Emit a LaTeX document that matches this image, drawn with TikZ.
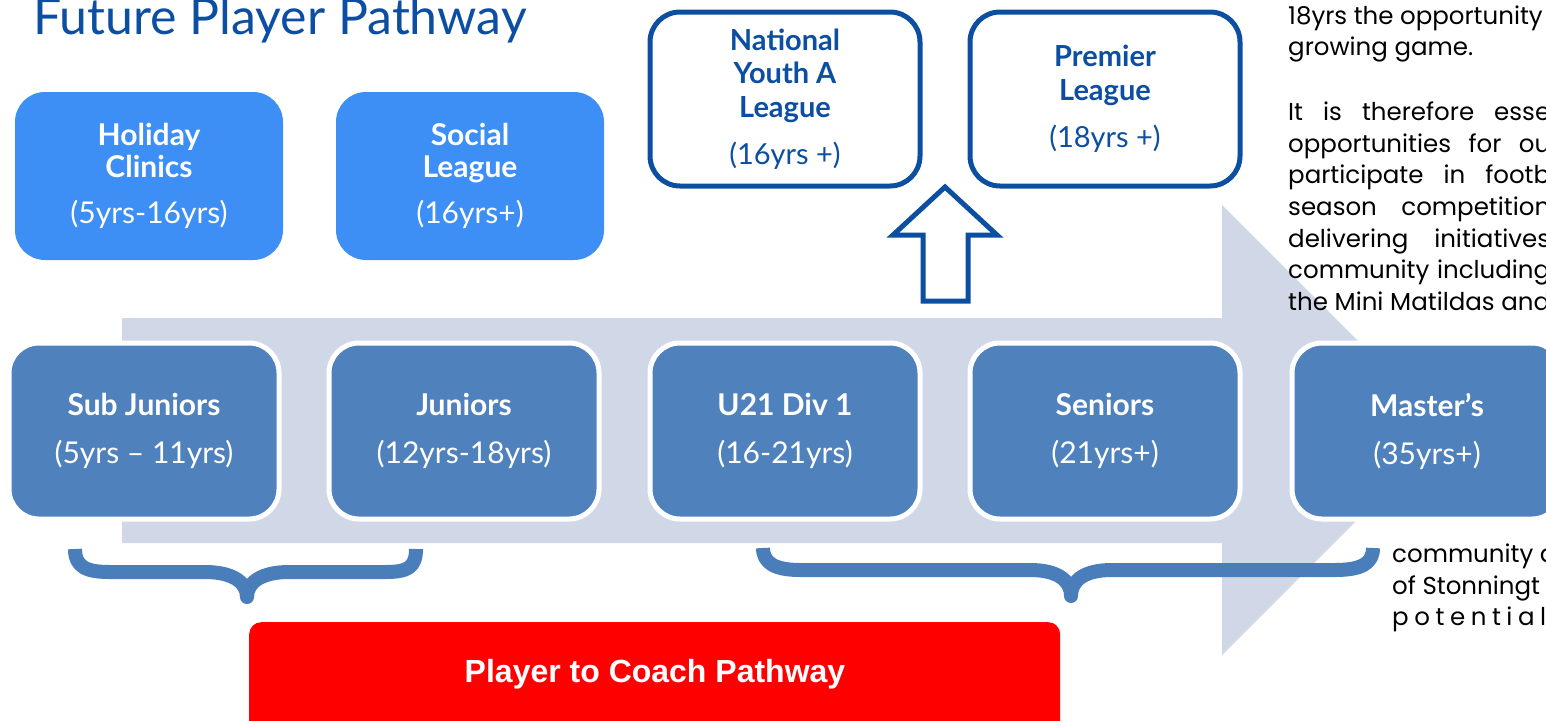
\documentclass[tikz,border=0pt]{standalone}
\usepackage{fontspec}
\setmainfont{Lato}
\newfontfamily\bodyfont{Poppins}
\newfontfamily\arialfont{Liberation Sans}
\usetikzlibrary{positioning}

\definecolor{titleblue}{RGB}{12,78,162}
\definecolor{brightblue}{RGB}{61,142,245}
\definecolor{rowblue}{RGB}{79,129,189}
\definecolor{pathgrey}{RGB}{208,216,232}
\definecolor{bracecol}{RGB}{74,126,187}

% stretched (justified) line of the side text
\newcommand{\jline}[2]{\makebox[#1pt][s]{#2}}

\tikzset{
  agebox/.style={draw=white, line width=5, fill=rowblue, rounded corners=30,
    minimum width=270, minimum height=176, text=white, align=center,
    font=\fontsize{30}{34}\selectfont},
  clinicbox/.style={fill=brightblue, rounded corners=30, minimum width=268,
    minimum height=168, text=white, align=center,
    font=\fontsize{30}{32}\selectfont},
  leaguebox/.style={draw=titleblue, line width=5, fill=white, rounded corners=30,
    minimum width=270, minimum height=174, text=titleblue, align=center,
    font=\fontsize{29}{33.5}\selectfont},
  bodytext/.style={anchor=base west, inner sep=0,
    font=\bodyfont\fontsize{24.5}{32}\selectfont},
  brace/.style={draw=bracecol, line width=14, line join=round},
}

\begin{document}
\begin{tikzpicture}[x=1pt,y=1pt]
\useasboundingbox (0,0) rectangle (1546,-720);
\clip (0,0) rectangle (1546,-720);

% big pathway arrow
\fill[pathgrey] (122,-318) -- (1222,-318) -- (1222,-205) -- (1447,-430)
  -- (1222,-655) -- (1222,-543) -- (122,-543) -- cycle;

% title
\node[anchor=base west, inner sep=0, text=titleblue,
  font=\fontsize{50}{54}\selectfont] (title) at (33,-34) {Future Player Pathway};

% top boxes
\node[clinicbox] (holiday) at (149,-176)
  {\textbf{Holiday}\\\textbf{Clinics}\\[14pt](5yrs-16yrs)};
\node[clinicbox] (social) at (470,-176)
  {\textbf{Social}\\\textbf{League}\\[14pt](16yrs+)};
\node[leaguebox] (national) at (785,-99)
  {\textbf{National}\\\textbf{Youth A}\\\textbf{League}\\[14pt](16yrs +)};
\node[leaguebox] (premier) at (1105,-99)
  {\textbf{Premier}\\\textbf{League}\\[14pt](18yrs +)};

% age groups
\node[agebox] (subjun) at (144,-431) {\textbf{Sub Juniors}\\[14pt](5yrs – 11yrs)};
\node[agebox] (juniors) at (464,-431) {\textbf{Juniors}\\[14pt](12yrs-18yrs)};
\node[agebox] (under21) at (785,-431) {\textbf{U21 Div 1}\\[14pt](16-21yrs)};
\node[agebox] (seniors) at (1105,-431) {\textbf{Seniors}\\[14pt](21yrs+)};
\node[agebox] (masters) at (1427,-431) {\textbf{Master’s}\\[14pt](35yrs+)};

% up arrow to national youth
\draw[titleblue, line width=5, fill=white] (923,-301) -- (923,-235) -- (893,-235)
  -- (945,-187) -- (997,-235) -- (968,-235) -- (968,-301) -- cycle;

% braces
\draw[brace] (75,-549) .. controls (75,-568) and (88,-572) .. (110,-572)
  -- (205,-572) .. controls (232,-572) and (247,-582) .. (247,-597)
  .. controls (247,-582) and (262,-572) .. (289,-572)
  -- (385,-572) .. controls (407,-572) and (416,-568) .. (416,-549);
\draw[brace] (763,-548) .. controls (763,-563) and (775,-570) .. (800,-570)
  -- (1030,-570) .. controls (1057,-570) and (1071,-580) .. (1071,-596)
  .. controls (1071,-580) and (1085,-570) .. (1112,-570)
  -- (1335,-570) .. controls (1362,-570) and (1373,-563) .. (1373,-548);

% coach pathway
\node[fill=red, rounded corners=12, minimum width=811, minimum height=120,
  anchor=north west] (coach) at (249,-622) {};
\node[text=white, font=\arialfont\bfseries\fontsize{32}{34}\selectfont]
  (coachlabel) at (655,-674) {Player to Coach Pathway};

% side text
\node[bodytext] (s1) at (1288,-24) {18yrs the opportunity};
\node[bodytext] (s2) at (1288,-55) {growing game.};
\node[bodytext] (s3) at (1288,-120) {\jline{262}{It is therefore esse}};
\node[bodytext] (s4) at (1288,-152) {\jline{262}{opportunities for ou}};
\node[bodytext] (s5) at (1288,-183) {\jline{262}{participate in footb}};
\node[bodytext] (s6) at (1288,-215) {\jline{262}{season competition}};
\node[bodytext] (s7) at (1288,-247) {\jline{262}{delivering initiatives}};
\node[bodytext] (s8) at (1288,-278) {\jline{262}{community including}};
\node[bodytext] (s9) at (1288,-310) {\jline{262}{the Mini Matildas and}};
\node[bodytext] (s10) at (1392,-562) {community a};
\node[bodytext] (s11) at (1392,-594) {of Stonningt};
\node[bodytext] (s12) at (1392,-625) {\jline{154}{p o t e n t i a l}};
\end{tikzpicture}
\end{document}
